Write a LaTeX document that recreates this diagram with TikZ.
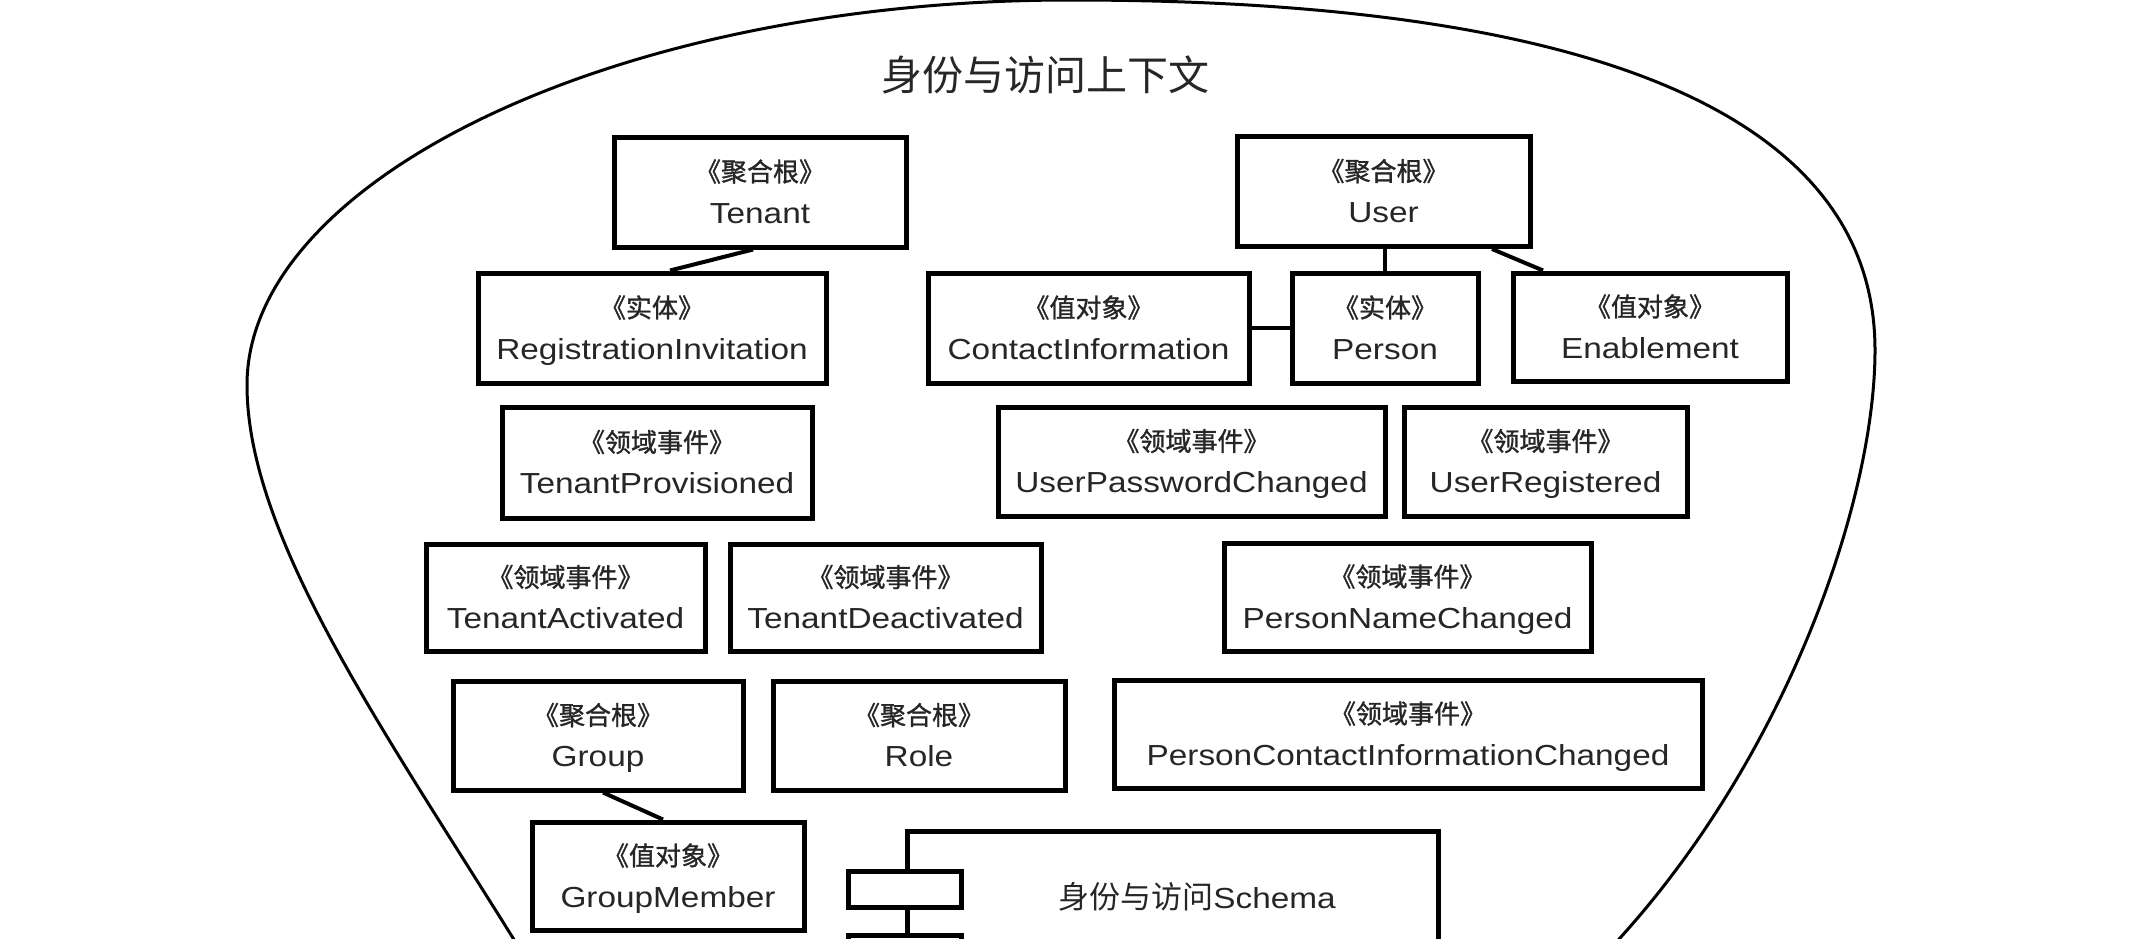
\documentclass[tikz,border=0pt]{standalone}
\usepackage{fontspec}
\setmainfont{Liberation Sans}[FakeStretch=1.15]
\newfontfamily\cjk{Noto Sans CJK SC}
\newfontfamily\cjkb{Noto Sans CJK SC}[FakeBold=1.2]
\tikzset{
  ubox/.style={draw=black, line width=2.5pt, rectangle, inner sep=0pt},
  stereo/.style={font=\cjkb\fontsize{13pt}{15pt}\selectfont, text=black!85, inner sep=0pt, anchor=base},
  nm/.style={font=\fontsize{14.5pt}{17pt}\selectfont, text=black!85, inner sep=0pt, anchor=base},
  link/.style={line width=2pt},
  ctx/.style={line width=1.5pt},
}
\newcommand{\umlbox}[7]{%
  \node[ubox, minimum width=#4pt, minimum height=#5pt] (#1) at (#2,#3) {};
  \node[stereo] (#1-s) at ([yshift=5.3pt]#1.center) {《#6》};
  \node[nm] (#1-n) at ([yshift=-15.5pt]#1.center) {#7};
}
\begin{document}
\begin{tikzpicture}[x=0.5pt,y=-0.5pt]
\useasboundingbox (0,0) rectangle (2140,938);
\clip (0,0) rectangle (2140,938);
\fill[white] (0,0) rectangle (2140,938);
% bounded context outline
\draw[ctx] (530,965) -- (513,938)
  .. controls (380.5,725.5) and (247,535) .. (247,385)
  .. controls (247,180) and (615.5,0) .. (1070,0)
  .. controls (1569,0) and (1875,105) .. (1875,350)
  .. controls (1875,500) and (1787.5,753) .. (1620,938)
  -- (1593,968);
\node[font=\cjk\fontsize{20.5pt}{24pt}\selectfont, text=black!85, anchor=base, inner sep=0pt] (title) at (1045,90.4) {身份与访问上下文};
% boxes
\umlbox{tenant}{760}{192}{146}{55}{聚合根}{Tenant}
\umlbox{user}{1383.5}{191.5}{146.5}{55}{聚合根}{User}
\umlbox{reginv}{652}{328}{174}{55}{实体}{RegistrationInvitation}
\umlbox{contact}{1088.5}{328}{160.5}{55}{值对象}{ContactInformation}
\umlbox{person}{1385}{328}{93}{55}{实体}{Person}
\umlbox{enable}{1650}{327}{137}{54}{值对象}{Enablement}
\umlbox{tprov}{657}{462.5}{155}{55.5}{领域事件}{TenantProvisioned}
\umlbox{upwd}{1191.5}{461.5}{193.5}{54.5}{领域事件}{UserPasswordChanged}
\umlbox{ureg}{1545.5}{461.5}{141.5}{54.5}{领域事件}{UserRegistered}
\umlbox{tact}{565.5}{597.5}{139.5}{53.5}{领域事件}{TenantActivated}
\umlbox{tdeact}{885.5}{597.5}{155.5}{53.5}{领域事件}{TenantDeactivated}
\umlbox{pname}{1407.5}{597}{183.5}{54}{领域事件}{PersonNameChanged}
\umlbox{group}{598}{735.5}{145}{54.5}{聚合根}{Group}
\umlbox{role}{919}{735.5}{146}{54.5}{聚合根}{Role}
\umlbox{pcic}{1408}{734}{294}{54}{领域事件}{PersonContactInformationChanged}
\umlbox{gmember}{668}{876}{136}{54}{值对象}{GroupMember}
% connectors
\draw[link] ([xshift=-3.5pt]tenant.south) -- ([xshift=9pt]reginv.north);
\draw[link] (person.north |- user.south) -- (person.north);
\draw[link] ([xshift=54.25pt]user.south) -- ([xshift=-53.5pt]enable.north);
\draw[link] (contact.east) -- (person.west);
\draw[link] ([xshift=2.5pt]group.south) -- ([xshift=-2.5pt]gmember.north);
% component
\node[ubox, minimum width=265.5pt, minimum height=90pt] (schema) at (1172.5,921) {};
\node[ubox, fill=white, minimum width=56.5pt, minimum height=18pt] (port1) at ([yshift=16pt]schema.west) {};
\node[ubox, fill=white, minimum width=56.5pt, minimum height=18pt] (port2) at ([yshift=-16pt]schema.west) {};
\node[nm] (schema-n) at (1197,908) {{\cjk\fontsize{15.5pt}{18pt}\selectfont 身份与访问}Schema};
\end{tikzpicture}
\end{document}
